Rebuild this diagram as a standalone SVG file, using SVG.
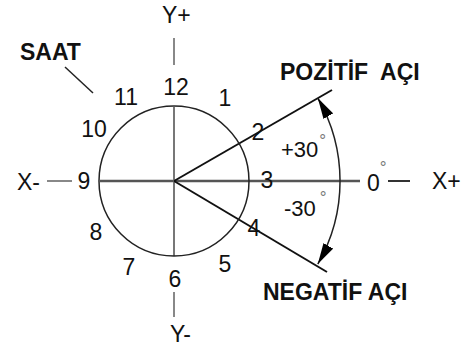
<svg xmlns="http://www.w3.org/2000/svg" width="475" height="349" viewBox="0 0 475 349">
<style>
.num{font-family:"Liberation Sans",Arial,sans-serif;font-size:23px;fill:#111;text-anchor:middle}
.ax{font-family:"Liberation Sans",Arial,sans-serif;font-size:23px;fill:#111}
.lbl{font-family:"Liberation Sans",Arial,sans-serif;font-size:23px;font-weight:bold;fill:#111}
.ang{font-family:"Liberation Sans",Arial,sans-serif;font-size:22px;fill:#111}
.deg{font-size:17px;fill:#777}
.tick{stroke:#888;stroke-width:2;fill:none}
</style>
<defs>
<marker id="ah" markerUnits="userSpaceOnUse" markerWidth="21" markerHeight="11" refX="21" refY="5.5" orient="auto-start-reverse">
<path d="M0,0 L21,5.5 L0,11 z" fill="#000"/>
</marker>
</defs>
<rect width="475" height="349" fill="#fff"/>
<g id="connectors">
<line x1="100" y1="181" x2="360" y2="181" stroke="#555" stroke-width="2.5"/>
<line x1="174" y1="107" x2="174" y2="256" stroke="#777" stroke-width="2"/>
<line x1="174" y1="181" x2="332" y2="90" stroke="#111" stroke-width="2"/>
<line x1="174" y1="181" x2="327" y2="272" stroke="#111" stroke-width="2"/>
<path d="M317.8,98 A166,166 0 0 1 317.8,264" fill="none" stroke="#222" stroke-width="1.5" marker-start="url(#ah)" marker-end="url(#ah)"/>
<line class="tick" x1="174" y1="38" x2="174" y2="65"/>
<line class="tick" x1="174" y1="292" x2="174" y2="317"/>
<line class="tick" x1="47" y1="181" x2="72" y2="181"/>
<line x1="388" y1="181" x2="410" y2="181" stroke="#333" stroke-width="2"/>
<line x1="65" y1="67" x2="93" y2="93" stroke="#222" stroke-width="1.5"/>
</g>
<g id="clock">
<circle cx="174" cy="181" r="75" fill="none" stroke="#222" stroke-width="1.5"/>
<text class="num" x="176" y="95">12</text>
<text class="num" x="225" y="106">1</text>
<text class="num" x="258" y="140">2</text>
<text class="num" x="267" y="188">3</text>
<text class="num" x="254" y="236">4</text>
<text class="num" x="225" y="272">5</text>
<text class="num" x="175" y="287">6</text>
<text class="num" x="129" y="275">7</text>
<text class="num" x="96" y="240">8</text>
<text class="num" x="84" y="189">9</text>
<text class="num" x="94" y="137">10</text>
<text class="num" x="126" y="105">11</text>
</g>
<g id="saat"><text class="lbl" x="20" y="60">SAAT</text></g>
<g id="yplus"><text class="ax" x="162" y="23">Y+</text></g>
<g id="yminus"><text class="ax" x="170" y="342">Y-</text></g>
<g id="xminus"><text class="ax" x="17" y="190">X-</text></g>
<g id="xplus"><text class="ax" x="432" y="189">X+</text></g>
<g id="zero"><text class="ax" x="367" y="191">0<tspan class="deg" dy="-18.5">°</tspan></text></g>
<g id="pos-angle"><text class="ang" x="281" y="157">+30<tspan class="deg" dx="1" dy="-11">°</tspan></text></g>
<g id="neg-angle"><text class="ang" x="284" y="216">-30<tspan class="deg" dx="4" dy="-13">°</tspan></text></g>
<g id="pozitif"><text class="lbl" x="280" y="80" xml:space="preserve">POZİTİF  AÇI</text></g>
<g id="negatif"><text class="lbl" x="263" y="300">NEGATİF AÇI</text></g>
</svg>
